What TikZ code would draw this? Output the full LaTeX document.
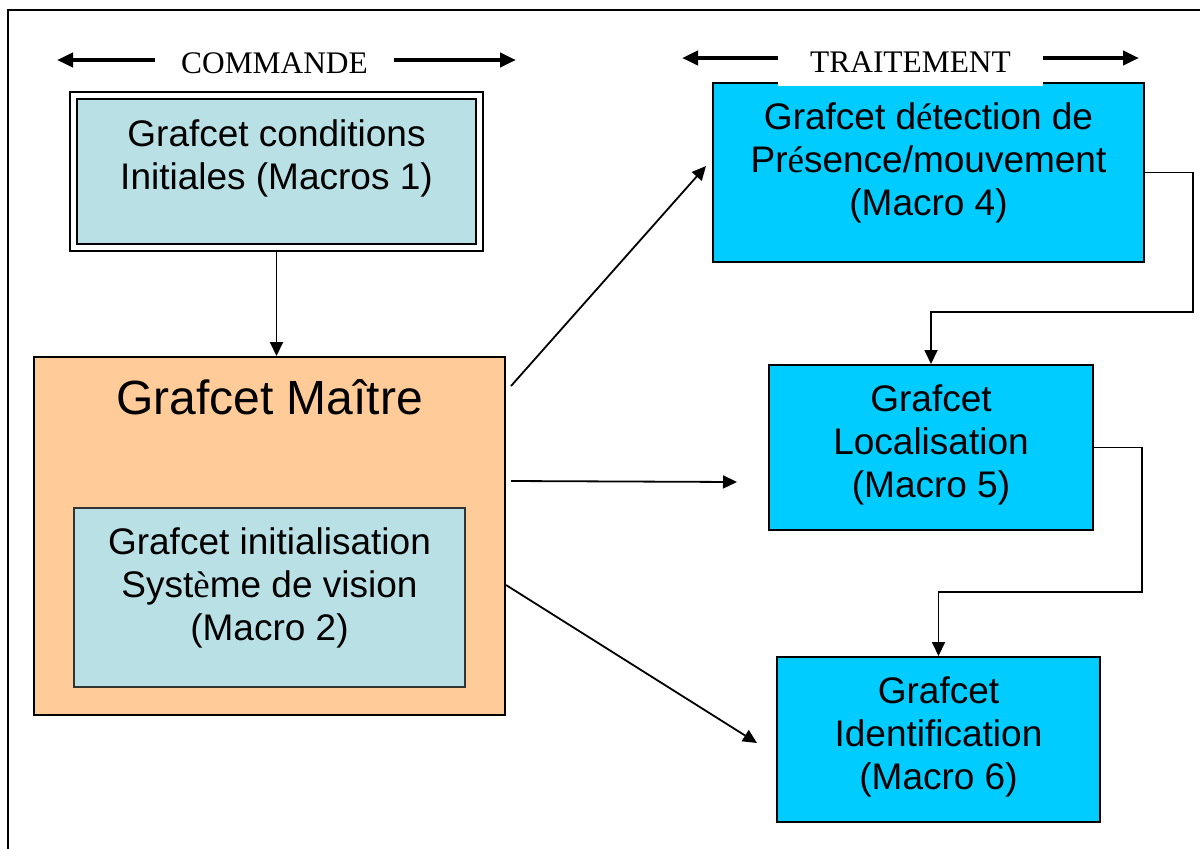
\documentclass[tikz,border=0pt]{standalone}
\usepackage{fontspec}
\setmainfont{Liberation Sans}
\newfontfamily\serifrm{Liberation Serif}
\usetikzlibrary{arrows.meta,calc}
\definecolor{tealbox}{RGB}{185,224,228}
\definecolor{peach}{RGB}{255,204,153}
\definecolor{cyanbox}{RGB}{0,204,255}
\newcommand{\boxtxt}[4]{\parbox[c][#2][c]{#1}{\centering\fontsize{18.5}{21.5}\selectfont #4\par\vspace{#3}}}
\newcommand{\se}[1]{{\serifrm #1}}
\tikzset{
  box/.style={draw=black, line width=1pt, inner sep=0pt},
  thinbox/.style={draw=black!80, line width=0.6pt, inner sep=0pt},
  lab/.style={font=\serifrm\fontsize{15.7}{18}\selectfont, inner sep=0pt},
  bigarrow/.style={line width=2pt, -{Triangle[length=8pt,width=7pt]}},
  conn/.style={line width=0.9pt, -{Triangle[length=7pt,width=6.5pt]}}
}
\begin{document}
\begin{tikzpicture}[x=0.5pt,y=-0.5pt]
\useasboundingbox (0,0) rectangle (1200,848);
% frame
\draw[line width=1pt] (8,860) -- (8,10) -- (1210,10);

% Macro 1 (double border)
\node[box, fill=tealbox] (m1) at (276.5,171.5)
  {\boxtxt{199.5pt}{72.5pt}{13.5pt}{Grafcet conditions\\Initiales (Macros 1)}};
\draw[line width=1.3pt] ([shift={(-6,-6)}]m1.north west) rectangle ([shift={(6,6)}]m1.south east);

% Maitre
\node[box, fill=peach] (mm) at (269.5,536)
  {\parbox[c][179pt][t]{235.5pt}{\centering\vspace*{11.5pt}\fontsize{24}{28}\selectfont Grafcet Maître}};
\node[thinbox, fill=tealbox] (m2) at (269.5,597.5)
  {\boxtxt{195.5pt}{89.5pt}{10pt}{Grafcet initialisation\\Syst\se{è}me de vision\\(Macro 2)}};

% right column
\node[box, fill=cyanbox] (m4) at (928.5,172.5)
  {\boxtxt{215.5pt}{89.5pt}{10pt}{Grafcet d\se{é}tection de\\Pr\se{é}sence/mouvement\\(Macro 4)}};
\node[box, fill=cyanbox] (m5) at (931,447.5)
  {\boxtxt{162pt}{82.5pt}{3pt}{Grafcet\\Localisation\\(Macro 5)}};
\node[box, fill=cyanbox] (m6) at (938.5,739.5)
  {\boxtxt{161.5pt}{82.5pt}{3pt}{Grafcet\\Identification\\(Macro 6)}};

% top labels
\node[lab, minimum width=119.5pt, minimum height=23pt] (cmd) at (274.5,63) {COMMANDE};
\coordinate (cmdL) at (57,60);
\coordinate (cmdR) at (516,60);
\draw[bigarrow] ([yshift=1.5pt]cmd.west) -- (cmdL);
\draw[bigarrow] ([yshift=1.5pt]cmd.east) -- (cmdR);

\node[lab, fill=white, minimum width=132.5pt, minimum height=23pt] (trt) at (910.5,62.5) {TRAITEMENT};
\coordinate (trtL) at (682,58);
\coordinate (trtR) at (1139,58);
\draw[bigarrow] ([yshift=2.25pt]trt.west) -- (trtL);
\draw[bigarrow] ([yshift=2.25pt]trt.east) -- (trtR);

% connectors
\draw[conn] ([yshift=-3pt]m1.south) -- (m1.south |- mm.north);
\draw[conn] ([shift={(5,30)}]mm.north east) -- ([shift={(-6,-6.5)}]m4.west);
\draw[conn] ([shift={(5,125)}]mm.north east) -- ([shift={(-31,34.5)}]m5.west);
\draw[conn] ([shift={(0,229)}]mm.north east) -- ([shift={(-19,3.5)}]m6.west);
\draw[conn] (m4.east) -- ++(48,0) |- ($(m5.north)+(0,-52)$) -- (m5.north);
\draw[conn] (m5.east) -- ++(48,0) |- ($(m6.north)+(0,-64)$) -- (m6.north);
\end{tikzpicture}
\end{document}
